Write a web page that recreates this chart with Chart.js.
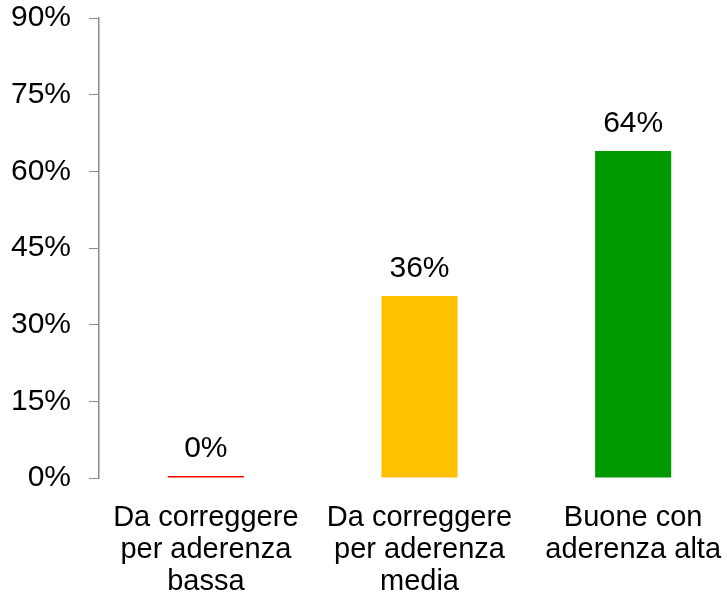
<!DOCTYPE html>
<html lang="it">
<head>
<meta charset="UTF-8">
<title>Aderenza</title>
<script src="https://cdn.jsdelivr.net/npm/chart.js"></script>
<style>
  html, body { margin: 0; padding: 0; overflow: hidden; background: #fff; }
  #wrap { width: 740px; height: 596px; }
</style>
</head>
<body>
<div id="wrap"><canvas id="grafico"></canvas></div>
<script>
// dati
var categorie = [
  ['Da correggere', 'per aderenza', 'bassa'],
  ['Da correggere', 'per aderenza', 'media'],
  ['Buone con', 'aderenza alta']
];
var valori = [0, 35.6, 64];
var etichette = ['0%', '36%', '64%'];
var colori = ['#ff0000', '#ffc000', '#009900'];
var tickY = [0, 15, 30, 45, 60, 75, 90];

var grigio = '#8c8c8c';
var font = 'Liberation Sans, Arial, sans-serif';

// etichette dei valori sopra le barre
var etichetteBarre = {
  id: 'etichetteBarre',
  afterDatasetsDraw: function (chart) {
    var ctx = chart.ctx;
    var meta = chart.getDatasetMeta(0);
    ctx.save();
    ctx.font = '30px ' + font;
    ctx.fillStyle = '#000';
    ctx.textAlign = 'center';
    ctx.textBaseline = 'alphabetic';
    meta.data.forEach(function (bar, i) {
      ctx.fillText(etichette[i], bar.x, bar.y - 19);
    });
    ctx.restore();
  }
};

var ctx = document.getElementById('grafico').getContext('2d');
new Chart(ctx, {
  type: 'bar',
  data: {
    labels: categorie,
    datasets: [{
      data: valori,
      backgroundColor: colori,
      borderWidth: 0,
      minBarLength: 2,
      barPercentage: 0.356,
      categoryPercentage: 1
    }]
  },
  options: {
    responsive: true,
    maintainAspectRatio: false,
    animation: false,
    layout: { padding: { top: 18, left: 0, right: 0, bottom: 0 } },
    plugins: { legend: { display: false }, tooltip: { enabled: false } },
    scales: {
      x: {
        grid: { display: false },
        border: { display: false },
        ticks: {
          color: '#000',
          font: { family: font, size: 29, lineHeight: 1.1 },
          padding: 16,
          maxRotation: 0,
          autoSkip: false
        },
        afterFit: function (s) { s.height = 118; }
      },
      y: {
        min: 0,
        max: 90,
        afterBuildTicks: function (s) {
          s.ticks = tickY.map(function (v) { return { value: v }; });
        },
        grid: {
          drawOnChartArea: false,
          drawTicks: true,
          tickLength: 10,
          color: grigio,
          lineWidth: 1
        },
        border: { display: true, color: grigio, width: 1.5 },
        ticks: {
          color: '#000',
          font: { family: font, size: 30 },
          padding: 18,
          callback: function (v) { return v + '%'; }
        },
        afterFit: function (s) {
          s.width = 99;
          s.paddingTop = 0;
          s.paddingBottom = 0;
        }
      }
    }
  },
  plugins: [etichetteBarre]
});
</script>
</body>
</html>
